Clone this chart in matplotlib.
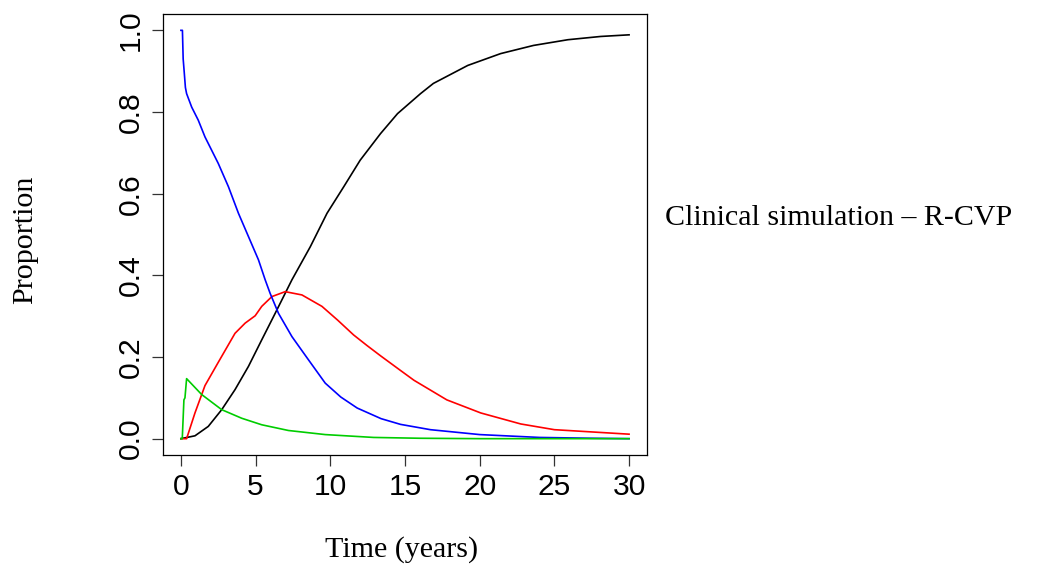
import matplotlib
matplotlib.use("Agg")
import matplotlib.pyplot as plt

# ---- data ----
t_blue = [0, 0.1, 0.15, 0.22, 0.3, 0.38, 0.72, 1.16, 1.61, 2.5, 3.18, 3.85, 4.52, 5.19,
          5.64, 5.97, 6.53, 7.43, 8.54, 9.66, 10.7, 11.8, 13.4, 14.7, 16.7, 20.0, 24.0,
          27.5, 30.0]
p_blue = [1.0, 1.0, 0.93, 0.898, 0.86, 0.845, 0.812, 0.78, 0.739, 0.674, 0.617, 0.552,
          0.495, 0.438, 0.389, 0.356, 0.307, 0.25, 0.193, 0.136, 0.102, 0.075, 0.049, 0.035,
          0.022, 0.01, 0.003, 0.001, 0.0]

t_red = [0, 0.38, 0.94, 1.61, 2.5, 3.62, 4.3, 4.97, 5.41, 6.09, 6.98, 8.1, 9.44, 10.5,
         11.56, 12.46, 13.36, 14.7, 15.6, 17.8, 20.07, 22.75, 25.0, 30.0]
p_red = [0, 0, 0.063, 0.13, 0.187, 0.258, 0.283, 0.301, 0.324, 0.348, 0.36, 0.352, 0.324,
         0.29, 0.254, 0.228, 0.203, 0.167, 0.143, 0.095, 0.063, 0.036, 0.022, 0.011]

t_green = [0, 0.09, 0.2, 0.27, 0.38, 1.39, 2.73, 4.07, 5.41, 7.2, 9.66, 12.9, 16.0,
           20.0, 30.0]
p_green = [0, 0, 0.095, 0.10, 0.147, 0.108, 0.071, 0.05, 0.034, 0.02, 0.01, 0.003, 0.001,
           0.0, 0.0]

t_black = [0, 0.94, 1.83, 2.73, 3.62, 4.52, 5.41, 6.31, 7.43, 8.66, 9.78, 10.9, 12.0,
           13.36, 14.5, 16.04, 16.9, 19.2, 21.4, 23.6, 25.9, 28.1, 30.0]
p_black = [0, 0.007, 0.03, 0.071, 0.12, 0.177, 0.242, 0.307, 0.389, 0.47, 0.552, 0.617,
           0.682, 0.747, 0.796, 0.845, 0.87, 0.914, 0.943, 0.963, 0.977, 0.985, 0.989]

x_ticks = [0, 5, 10, 15, 20, 25, 30]
y_ticks = [0.0, 0.2, 0.4, 0.6, 0.8, 1.0]
y_ticklabels = ["0.0", "0.2", "0.4", "0.6", "0.8", "1.0"]

SANS = "Liberation Sans"
SERIF = "Liberation Serif"
FS = 21.6

fig = plt.figure(figsize=(10.48, 5.73), dpi=100)
W, H = 1048, 573
ax = fig.add_axes([163 / W, 1 - 455 / H, (647 - 163) / W, (455 - 14) / H])

lw = 1.2
ax.plot(t_black, p_black, color="black", lw=lw)
ax.plot(t_red, p_red, color="#FF0000", lw=lw)
ax.plot(t_blue, p_blue, color="#0000FF", lw=lw)
ax.plot(t_green, p_green, color="#00CD00", lw=lw)

ax.set_xlim(-1.2, 31.2)
ax.set_ylim(-0.04, 1.04)
ax.set_xticks(x_ticks)
ax.set_xticklabels([str(v) for v in x_ticks], fontfamily=SANS, fontsize=FS)
ax.set_yticks(y_ticks)
ax.set_yticklabels(y_ticklabels, fontfamily=SANS, fontsize=FS, rotation=90, va="center")
ax.tick_params(axis="both", direction="out", length=8, width=0.9, color="#333333")
ax.tick_params(axis="x", pad=5)
ax.tick_params(axis="y", pad=5)
for s in ax.spines.values():
    s.set_linewidth(0.9)
    s.set_color("black")

fig.text(25 / W, 1 - 240 / H, "Proportion", rotation=90, ha="center", va="center",
         fontfamily=SERIF, fontsize=FS)
fig.text(402 / W, 1 - 550 / H, "Time (years)", ha="center", va="center",
         fontfamily=SERIF, fontsize=FS)
fig.text(665 / W, 1 - 218 / H, "Clinical simulation \u2013 R-CVP", ha="left", va="center",
         fontfamily=SERIF, fontsize=FS)

fig.savefig("out.png", dpi=100)
